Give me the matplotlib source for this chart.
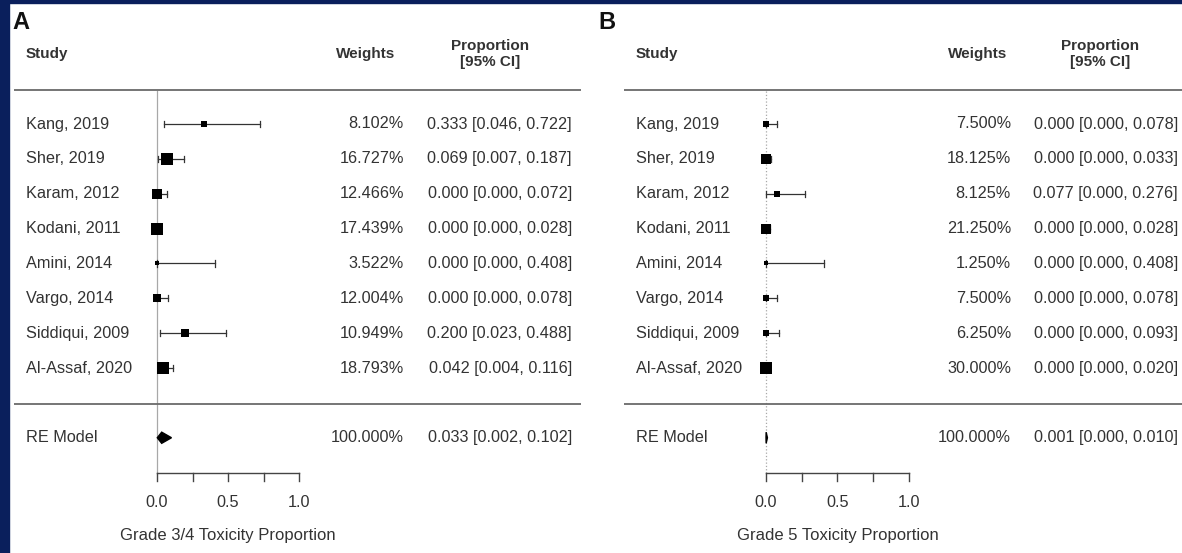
import matplotlib
matplotlib.use("Agg")
import matplotlib.pyplot as plt
from matplotlib.patches import Rectangle, Polygon
import numpy as np

plt.rcParams['font.family'] = ['Liberation Sans', 'DejaVu Sans']

# ---------------- data ----------------
studies = ["Kang, 2019", "Sher, 2019", "Karam, 2012", "Kodani, 2011",
           "Amini, 2014", "Vargo, 2014", "Siddiqui, 2009", "Al-Assaf, 2020"]

A_weights = [8.102, 16.727, 12.466, 17.439, 3.522, 12.004, 10.949, 18.793]
A_est = [0.333, 0.069, 0.000, 0.000, 0.000, 0.000, 0.200, 0.042]
A_lo = [0.046, 0.007, 0.000, 0.000, 0.000, 0.000, 0.023, 0.004]
A_hi = [0.722, 0.187, 0.072, 0.028, 0.408, 0.078, 0.488, 0.116]
A_re = (0.033, 0.002, 0.102)
A_re_weight = 100.000
A_xlabel = "Grade 3/4 Toxicity Proportion"

B_weights = [7.500, 18.125, 8.125, 21.250, 1.250, 7.500, 6.250, 30.000]
B_est = [0.000, 0.000, 0.077, 0.000, 0.000, 0.000, 0.000, 0.000]
B_lo = [0.000, 0.000, 0.000, 0.000, 0.000, 0.000, 0.000, 0.000]
B_hi = [0.078, 0.033, 0.276, 0.028, 0.408, 0.078, 0.093, 0.020]
B_re = (0.001, 0.000, 0.010)
B_re_weight = 100.000
B_xlabel = "Grade 5 Toxicity Proportion"

ticks = [0.0, 0.25, 0.5, 0.75, 1.0]
tick_labels = ["0.0", "", "0.5", "", "1.0"]

# ---------------- layout ----------------
W, H = 1182, 553
fig = plt.figure(figsize=(W / 100, H / 100), dpi=100)
fig.patch.set_facecolor("white")

NAVY = "#0a1f5c"
fig.patches.append(Rectangle((0, 0), 9 / W, 1, transform=fig.transFigure,
                             color=NAVY, zorder=0))
fig.patches.append(Rectangle((0, 1 - 3 / H), 1, 3 / H, transform=fig.transFigure,
                             color=NAVY, zorder=0))

ROW0, ROWH = 124, 34.86  # pixel y of first row, row spacing
TXT = "#333333"
FS = 11.7
HFS = 11.0


def panel(letter, est, lo, hi, weights, re, re_w, xlabel, P):
    ax = fig.add_axes([0, 0, 1, 1])
    ax.set_axis_off()
    ax.patch.set_alpha(0)
    x0, s = P["x0"], P["scale"]
    ax.set_xlim((0 - x0) / s, (W - x0) / s)
    ax.set_ylim((H - ROW0) / ROWH, (0 - ROW0) / ROWH)

    def X(px):
        return (px - x0) / s

    k = len(est)
    rows = np.arange(k)
    re_row = k + 1
    sep_row = k
    axis_row = k + 2

    # panel letter & headers
    ax.text(X(P["letter"]), -2.9, letter, fontsize=17, fontweight="bold",
            ha="left", va="center", color="#111")
    ax.text(X(P["study"]), -2.0, "Study", fontsize=HFS, fontweight="bold",
            ha="left", va="center", color=TXT)
    ax.text(X(P["wcenter"]), -2.0, "Weights", fontsize=HFS, fontweight="bold",
            ha="center", va="center", color=TXT)
    ax.text(X(P["pcenter"]), -2.25, "Proportion", fontsize=HFS, fontweight="bold",
            ha="center", va="center", color=TXT)
    ax.text(X(P["pcenter"]), -1.77, "[95% CI]", fontsize=HFS, fontweight="bold",
            ha="center", va="center", color=TXT)

    # horizontal rules
    for r in (-0.98, sep_row + 0.02):
        ax.plot([X(P["line_l"]), X(P["line_r"])], [r, r], color="#6a6a6a",
                lw=1.3, solid_capstyle="butt")

    # reference line
    ax.plot([0, 0], [-0.95, axis_row], color="#a8a8a8", lw=0.9,
            linestyle=P["refls"], zorder=1)

    # marker sizes (metafor style: linear in weight, cex 0.5..1.5)
    w = np.asarray(weights)
    psize = 0.5 + (w - w.min()) / (w.max() - w.min())

    for i in range(k):
        r = rows[i]
        ax.plot([lo[i], hi[i]], [r, r], color="#333", lw=0.9, zorder=2)
        for e in (lo[i], hi[i]):
            ax.plot([e, e], [r - 0.09, r + 0.09], color="#333", lw=0.9, zorder=2)
        ax.plot(est[i], r, marker="s", ms=6.0 * psize[i], color="black",
                mec="black", mew=0, zorder=3)
        ax.text(X(P["study"]), r, studies[i], fontsize=FS, ha="left",
                va="center", color=TXT)
        ax.text(X(P["wright"]), r, f"{weights[i]:.3f}%", fontsize=FS,
                ha="right", va="center", color=TXT)
        ax.text(X(P["ciright"]), r, f"{est[i]:.3f} [{lo[i]:.3f}, {hi[i]:.3f}]",
                fontsize=FS, ha="right", va="center", color=TXT)

    # RE model diamond
    e, l, u = re
    dh = 0.16
    ax.add_patch(Polygon([[l, re_row], [e, re_row - dh], [u, re_row],
                          [e, re_row + dh]], closed=True, color="black", zorder=3))
    ax.text(X(P["study"]), re_row, "RE Model", fontsize=FS, ha="left",
            va="center", color=TXT)
    ax.text(X(P["wright"]), re_row, f"{re_w:.3f}%", fontsize=FS, ha="right",
            va="center", color=TXT)
    ax.text(X(P["ciright"]), re_row, f"{e:.3f} [{l:.3f}, {u:.3f}]",
            fontsize=FS, ha="right", va="center", color=TXT)

    # x axis
    ax.plot([ticks[0], ticks[-1]], [axis_row, axis_row], color="#444", lw=1.0)
    for t, lab in zip(ticks, tick_labels):
        ax.plot([t, t], [axis_row, axis_row + 0.24], color="#444", lw=1.0)
        if lab:
            ax.text(t, axis_row + 0.87, lab, fontsize=FS, ha="center",
                    va="center", color=TXT)
    ax.text((ticks[0] + ticks[-1]) / 2, axis_row + 1.8, xlabel, fontsize=12,
            ha="center", va="center", color=TXT)


PA = dict(x0=157, scale=142, letter=12, study=26, wcenter=366, pcenter=490,
          wright=404, ciright=572, line_l=14, line_r=581, refls="-")
PB = dict(x0=766, scale=143, letter=598, study=636, wcenter=978, pcenter=1100,
          wright=1011, ciright=1178, line_l=624, line_r=1182, refls=":")

panel("A", A_est, A_lo, A_hi, A_weights, A_re, A_re_weight, A_xlabel, PA)
panel("B", B_est, B_lo, B_hi, B_weights, B_re, B_re_weight, B_xlabel, PB)

fig.savefig("out.png", dpi=100, facecolor="white")
